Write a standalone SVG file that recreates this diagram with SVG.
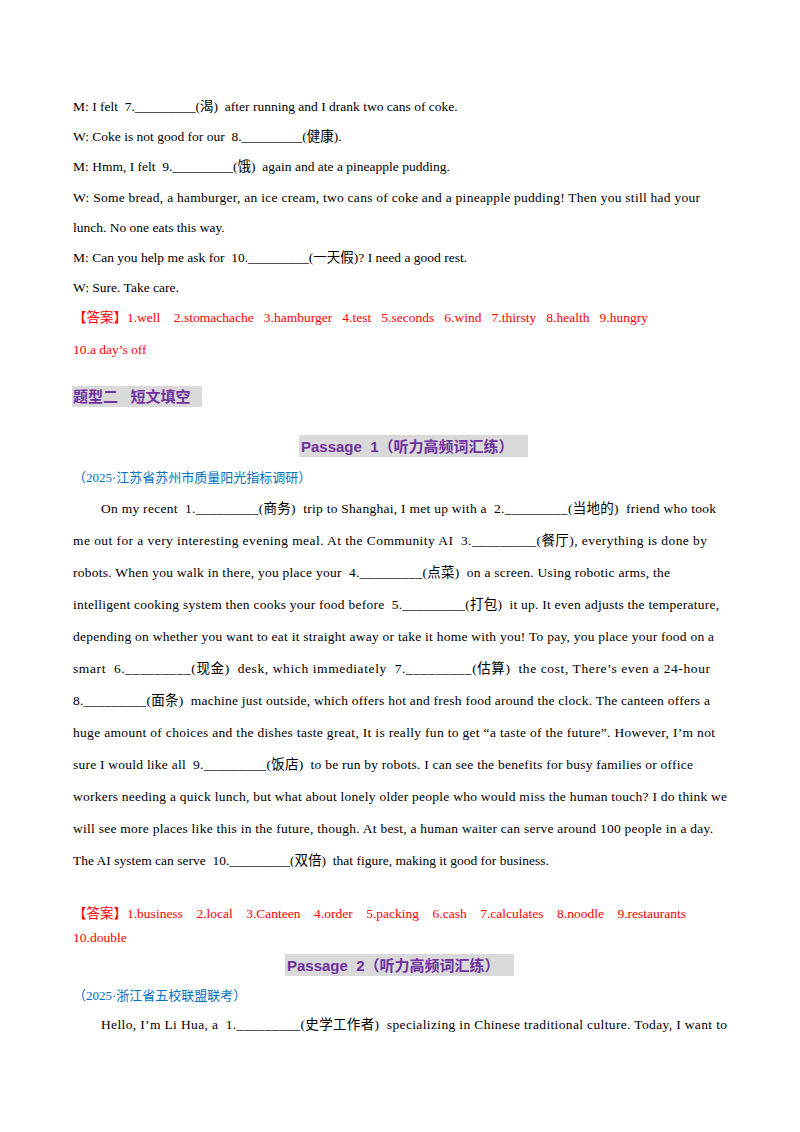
<svg xmlns="http://www.w3.org/2000/svg" width="800" height="1132" viewBox="0 0 800 1132">
<style>
text{font-family:"Liberation Serif","Noto Sans CJK SC",serif;font-size:13.5px;fill:#000;white-space:pre}
.r{fill:#FF0000}
.b{fill:#0070C0;font-size:13px}
.h{font-family:"Liberation Sans","Noto Sans CJK SC",sans-serif;font-weight:bold;fill:#7030A0;font-size:15px}
</style>
<rect width="800" height="1132" fill="#fff"/>
<g id="dialogue">
<text x="73" y="111">M: I felt &#160;7._________(渴) &#160;after running and I drank two cans of coke.</text>
<text x="73" y="141">W: Coke is not good for our &#160;8._________(健康).</text>
<text x="73" y="171">M: Hmm, I felt &#160;9._________(饿) &#160;again and ate a pineapple pudding.</text>
<text x="73" y="202" textLength="627" lengthAdjust="spacing">W: Some bread, a hamburger, an ice cream, two cans of coke and a pineapple pudding! Then you still had your</text>
<text x="73" y="232">lunch. No one eats this way.</text>
<text x="73" y="262">M: Can you help me ask for &#160;10._________(一天假)? I need a good rest.</text>
<text x="73" y="292">W: Sure. Take care.</text>
<text x="73" y="322" class="r">【答案】1.well &#160;&#160;&#160;2.stomachache &#160;&#160;3.hamburger &#160;&#160;4.test &#160;&#160;5.seconds &#160;&#160;6.wind &#160;&#160;7.thirsty &#160;&#160;8.health &#160;&#160;9.hungry</text>
<text x="73" y="354" class="r">10.a day’s off</text>
</g>
<g id="heading">
<rect x="72" y="386" width="130" height="21" fill="#D9D9D9"/>
<text x="73" y="402" class="h">题型二 &#160;&#160;短文填空</text>
</g>
<g id="passage1">
<rect x="299" y="435" width="229" height="22" fill="#D9D9D9"/>
<text x="301" y="452" class="h">Passage &#160;1（听力高频词汇练）</text>
<text x="73" y="482" class="b">（2025·江苏省苏州市质量阳光指标调研）</text>
<text x="101" y="513" textLength="615" lengthAdjust="spacing">On my recent &#160;1._________(商务) &#160;trip to Shanghai, I met up with a &#160;2._________(当地的) &#160;friend who took</text>
<text x="73" y="545" textLength="634" lengthAdjust="spacing">me out for a very interesting evening meal. At the Community AI &#160;3._________(餐厅), everything is done by</text>
<text x="73" y="577" textLength="597" lengthAdjust="spacing">robots. When you walk in there, you place your &#160;4._________(点菜) &#160;on a screen. Using robotic arms, the</text>
<text x="73" y="609" textLength="646" lengthAdjust="spacing">intelligent cooking system then cooks your food before &#160;5._________(打包) &#160;it up. It even adjusts the temperature,</text>
<text x="73" y="641" textLength="641" lengthAdjust="spacing">depending on whether you want to eat it straight away or take it home with you! To pay, you place your food on a</text>
<text x="73" y="673" textLength="637" lengthAdjust="spacing">smart &#160;6._________(现金) &#160;desk, which immediately &#160;7._________(估算) &#160;the cost, There’s even a 24-hour</text>
<text x="73" y="705" textLength="637" lengthAdjust="spacing">8._________(面条) &#160;machine just outside, which offers hot and fresh food around the clock. The canteen offers a</text>
<text x="73" y="737" textLength="642" lengthAdjust="spacing">huge amount of choices and the dishes taste great, It is really fun to get “a taste of the future”. However, I’m not</text>
<text x="73" y="769" textLength="620" lengthAdjust="spacing">sure I would like all &#160;9._________(饭店) &#160;to be run by robots. I can see the benefits for busy families or office</text>
<text x="73" y="801" textLength="654" lengthAdjust="spacing">workers needing a quick lunch, but what about lonely older people who would miss the human touch? I do think we</text>
<text x="73" y="833" textLength="640" lengthAdjust="spacing">will see more places like this in the future, though. At best, a human waiter can serve around 100 people in a day.</text>
<text x="73" y="865">The AI system can serve &#160;10._________(双倍) &#160;that figure, making it good for business.</text>
<text x="73" y="918" class="r">【答案】1.business &#160;&#160;&#160;2.local &#160;&#160;&#160;3.Canteen &#160;&#160;&#160;4.order &#160;&#160;&#160;5.packing &#160;&#160;&#160;6.cash &#160;&#160;&#160;7.calculates &#160;&#160;&#160;8.noodle &#160;&#160;&#160;9.restaurants</text>
<text x="73" y="942" class="r">10.double</text>
</g>
<g id="passage2">
<rect x="285" y="954" width="229" height="22" fill="#D9D9D9"/>
<text x="287" y="971" class="h">Passage &#160;2（听力高频词汇练）</text>
<text x="73" y="1000" class="b">（2025·浙江省五校联盟联考）</text>
<text x="101" y="1029" textLength="626" lengthAdjust="spacing">Hello, I’m Li Hua, a &#160;1._________(史学工作者) &#160;specializing in Chinese traditional culture. Today, I want to</text>
</g>
</svg>
